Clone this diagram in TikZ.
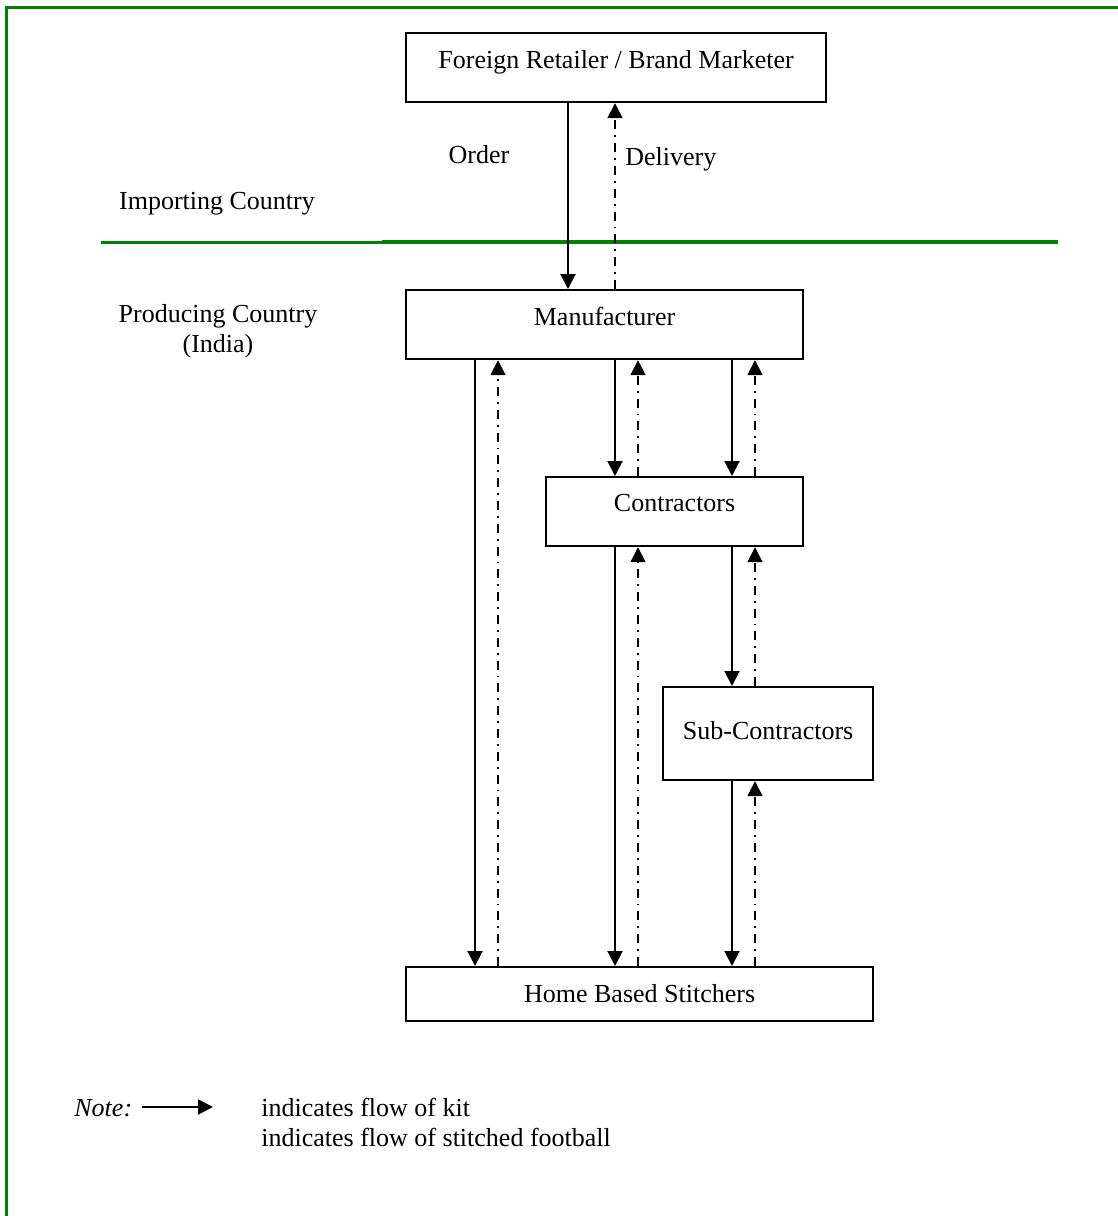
\documentclass[tikz,border=0pt]{standalone}
\usepackage{fontspec}
\setmainfont{Liberation Serif}
\usetikzlibrary{arrows.meta}
\definecolor{framegreen}{RGB}{0,128,0}
\begin{document}
\begin{tikzpicture}[x=0.5pt,y=-0.5pt,
  font=\fontsize{13}{15.5}\selectfont,
  box/.style={draw, line width=1.1pt, anchor=north west, inner sep=0pt},
  tip/.style={-{Triangle[length=7.5pt,width=7.5pt]}},
  kit/.style={line width=1pt, tip},
  ball/.style={line width=0.9pt, dash pattern=on 4.5pt off 3pt on 0.9pt off 3pt, tip},
  lbl/.style={anchor=base, inner sep=0pt}]
\useasboundingbox (0,0) rectangle (1118,1216);
% outer frame (only top and left edges fall inside the page)
\draw[framegreen, line width=1.7pt] (6.5,1230) -- (6.5,7.5) -- (1130,7.5);
% border between the two countries
\draw[framegreen, line width=1.6pt] (101,242.5) -- (382,242.5);
\draw[framegreen, line width=2pt] (382,241.5) -- (1058,241.5);

% boxes
\node[box, minimum width=210pt, text height=17.75pt, text depth=16.75pt] (ret) at (405,32)
  {Foreign Retailer / Brand Marketer};
\node[box, minimum width=198.5pt, text height=17.75pt, text depth=16.75pt] (man) at (405,289)
  {Manufacturer};
\node[box, minimum width=128.5pt, text height=17.25pt, text depth=17.25pt] (con) at (545,476)
  {Contractors};
\node[box, minimum width=105pt, text height=26.25pt, text depth=20.25pt] (sub) at (662,686)
  {Sub-Contractors};
\node[box, minimum width=233.5pt, text height=17.75pt, text depth=9.25pt] (home) at (405,966)
  {Home Based Stitchers};

% column positions of the flows
\coordinate (xa) at (475,0);
\coordinate (xb) at (498,0);
\coordinate (xo) at (568,0);
\coordinate (xc) at (615,0);
\coordinate (xd) at (638,0);
\coordinate (xe) at (732,0);
\coordinate (xf) at (755,0);

% retailer <-> manufacturer
\draw[kit]  (ret.south -| xo) -- (man.north -| xo);
\draw[ball] (man.north -| xc) -- (ret.south -| xc);
% manufacturer <-> home based stitchers
\draw[kit]  (man.south -| xa) -- (home.north -| xa);
\draw[ball] (home.north -| xb) -- (man.south -| xb);
% manufacturer <-> contractors
\draw[kit]  (man.south -| xc) -- (con.north -| xc);
\draw[ball] (con.north -| xd) -- (man.south -| xd);
\draw[kit]  (man.south -| xe) -- (con.north -| xe);
\draw[ball] (con.north -| xf) -- (man.south -| xf);
% contractors <-> home based stitchers
\draw[kit]  (con.south -| xc) -- (home.north -| xc);
\draw[ball] (home.north -| xd) -- (con.south -| xd);
% contractors <-> sub-contractors
\draw[kit]  (con.south -| xe) -- (sub.north -| xe);
\draw[ball] (sub.north -| xf) -- (con.south -| xf);
% sub-contractors <-> home based stitchers
\draw[kit]  (sub.south -| xe) -- (home.north -| xe);
\draw[ball] (home.north -| xf) -- (sub.south -| xf);

% labels
\node[lbl] (order) at (479,163) {Order};
\node[lbl, anchor=base west] (deliv) at (625,165) {Delivery};
\node[lbl] (imp) at (217,209) {Importing Country};
\node[lbl] (prod) at (218,322) {Producing Country};
\node[lbl] (india) at (218,352) {(India)};

% legend
\node[lbl, anchor=base west] (note) at (74,1116) {\itshape Note:};
\coordinate (la) at (142,1107);
\coordinate (lb) at (213,1107);
\draw[kit] (la) -- (lb);
\node[lbl, anchor=base west] (n1) at (261,1116) {indicates flow of kit};
\node[lbl, anchor=base west] (n2) at (261,1146) {indicates flow of stitched football};
\end{tikzpicture}
\end{document}
